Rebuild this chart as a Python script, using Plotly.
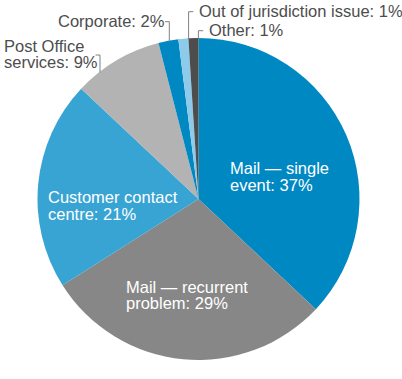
import plotly.graph_objects as go

categories = ["Mail — single event", "Mail — recurrent problem", "Customer contact centre",
              "Post Office services", "Corporate", "Out of jurisdiction issue", "Other"]
values = [37, 29, 21, 9, 2, 1, 1]
colors = ["#0088c3", "#878787", "#38a4d3", "#b3b3b3", "#0088c3", "#8ecbea", "#4d4d4d"]

W, H = 402, 379
cx, cy, r = 198.5, 199, 161

fig = go.Figure(go.Pie(
    labels=categories, values=values, sort=False, direction="clockwise", rotation=0,
    marker=dict(colors=colors, line=dict(width=0)),
    textinfo="none", hoverinfo="label+percent", showlegend=False,
    domain=dict(x=[(cx - r) / W, (cx + r) / W], y=[1 - (cy + r) / H, 1 - (cy - r) / H]),
))

FONT = "Liberation Sans, Arial, Helvetica, sans-serif"
FS = 16.5

def px(x):
    return x / W

def py(y):
    return 1 - y / H

# (text lines, left x, baseline of first line, line gap, color)
labels = [
    (["Mail — single", "event: 37%"], 229, 174, 16.8, "white"),
    (["Customer contact", "centre: 21%"], 47, 203.3, 16.5, "white"),
    (["Mail — recurrent", "problem: 29%"], 124.5, 292.5, 16.2, "white"),
    (["Post Office", "services: 9%"], 2.5, 51.7, 16.6, "#4d4d4d"),
    (["Corporate: 2%"], 57, 27.3, 0, "#4d4d4d"),
    (["Out of jurisdiction issue: 1%"], 198, 17, 0, "#4d4d4d"),
    (["Other: 1%"], 208, 36, 0, "#4d4d4d"),
]

annotations = []
for lines, lx, base, gap, col in labels:
    for i, t in enumerate(lines):
        b = base + i * gap
        annotations.append(dict(
            text=t, x=px(lx), y=py(b - 5.9), xref="paper", yref="paper",
            xanchor="left", yanchor="middle", showarrow=False,
            font=dict(family=FONT, size=FS, color=col), borderpad=0,
        ))

leaders = [
    [(165, 21.7), (169.3, 21.7), (169.3, 41.5)],
    [(193.3, 11.7), (188.6, 11.7), (188.6, 39.5)],
    [(203.3, 30.7), (198.4, 30.7), (198.4, 38.5)],
    [(95.5, 55), (100, 55), (100, 72.5)],
]
shapes = []
for pts in leaders:
    path = "M " + " L ".join(f"{px(x)},{py(y)}" for x, y in pts)
    shapes.append(dict(type="path", path=path, xref="paper", yref="paper",
                       line=dict(color="#808080", width=1)))

fig.update_layout(
    width=W, height=H, margin=dict(l=0, r=0, t=0, b=0),
    paper_bgcolor="white", plot_bgcolor="white",
    annotations=annotations, shapes=shapes,
)

fig.write_html("out.html", config={"displayModeBar": False},
               post_script="document.body.style.margin='0';document.body.style.overflow='hidden';")
